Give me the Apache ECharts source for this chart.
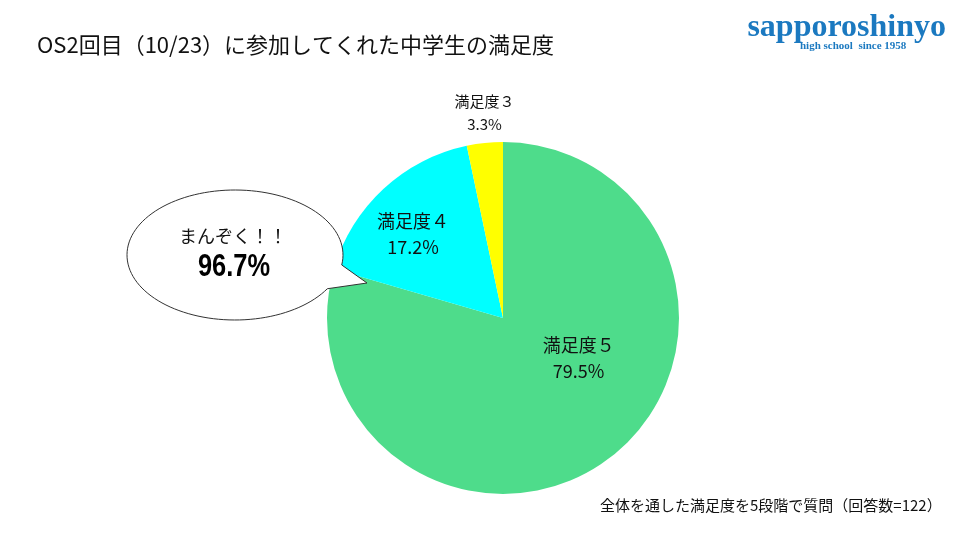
<!DOCTYPE html>
<html>
<head>
<meta charset="utf-8">
<script src="https://cdn.jsdelivr.net/npm/echarts@6/dist/echarts.min.js"></script>
<style>
  html, body { margin: 0; padding: 0; background: #fff; }
  #chart { width: 960px; height: 540px; }
</style>
</head>
<body>
<div id="chart"></div>
<script>
const labels = ['満足度５', '満足度４', '満足度３'];
const values = [79.5, 17.2, 3.3];
const colors = ['#4edc8b', '#00ffff', '#ffff00'];
// label nudges from the default inside spot
const labelOffsets = [[21, -33], [-28, -17], [-9, -115]];
const labelSizes = [18, 18, 15];

const titleText = 'OS2回目（10/23）に参加してくれた中学生の満足度';
const noteText = '全体を通した満足度を5段階で質問（回答数=122）';
const satisfied = (values[0] + values[1]).toFixed(1);

const jp = '"Noto Sans CJK JP", "Noto Sans", sans-serif';

// speech bubble outline: ellipse with a tail pointing at the pie
function bubblePoints(cx, cy, rx, ry) {
  const a0 = Math.atan2((289 - cy) / ry, (328 - cx) / rx);
  const a1 = Math.atan2((265 - cy) / ry, (342 - cx) / rx) + Math.PI * 2;
  const pts = [[367, 283]];
  const n = 120;
  for (let i = 0; i <= n; i++) {
    const a = a0 + (a1 - a0) * i / n;
    pts.push([cx + rx * Math.cos(a), cy + ry * Math.sin(a)]);
  }
  return pts;
}

const chart = echarts.init(document.getElementById('chart'));

const option = {
  backgroundColor: '#fff',
  animation: false,
  series: [{
    type: 'pie',
    z: 1,
    center: [503, 318],
    radius: [0, 176],
    startAngle: 90,
    clockwise: true,
    silent: true,
    label: {
      show: true,
      position: 'inside',
      color: '#111',
      fontFamily: jp,
      formatter: p => p.name + '\n' + p.value + '%'
    },
    labelLine: { show: false },
    itemStyle: { borderWidth: 0 },
    data: labels.map((name, i) => ({
      name: name,
      value: values[i],
      itemStyle: { color: colors[i] },
      label: { offset: labelOffsets[i], fontSize: labelSizes[i], lineHeight: labelSizes[i] + 8 }
    }))
  }],
  graphic: [
    {
      type: 'text', x: 37, y: 45,
      style: { text: titleText, font: '22px ' + jp, fill: '#111', verticalAlign: 'middle' }
    },
    {
      type: 'text', x: 946, y: 28,
      style: { text: 'sapporoshinyo', font: 'bold 32px "Liberation Serif", serif', fill: '#1b79c0', align: 'right', verticalAlign: 'middle' }
    },
    {
      type: 'text', x: 800, y: 46,
      style: { text: 'high school  since 1958', font: 'bold 11px "Liberation Serif", serif', fill: '#1b79c0', verticalAlign: 'middle' }
    },
    {
      type: 'polygon', z: 100,
      shape: { points: bubblePoints(235, 255, 108, 65) },
      style: { fill: '#fff', stroke: '#333', lineWidth: 1 }
    },
    {
      type: 'text', z: 101, x: 233, y: 236,
      style: { text: 'まんぞく！！', font: '18px ' + jp, fill: '#111', align: 'center', verticalAlign: 'middle' }
    },
    {
      type: 'text', z: 101, x: 234, y: 267, scaleX: 0.82,
      style: { text: satisfied + '%', font: 'bold 31px "Liberation Sans", sans-serif', fill: '#000', align: 'center', verticalAlign: 'middle' }
    },
    {
      type: 'text', x: 600, y: 505,
      style: { text: noteText, font: '15px ' + jp, fill: '#111', verticalAlign: 'middle' }
    }
  ]
};

chart.setOption(option);
</script>
</body>
</html>
